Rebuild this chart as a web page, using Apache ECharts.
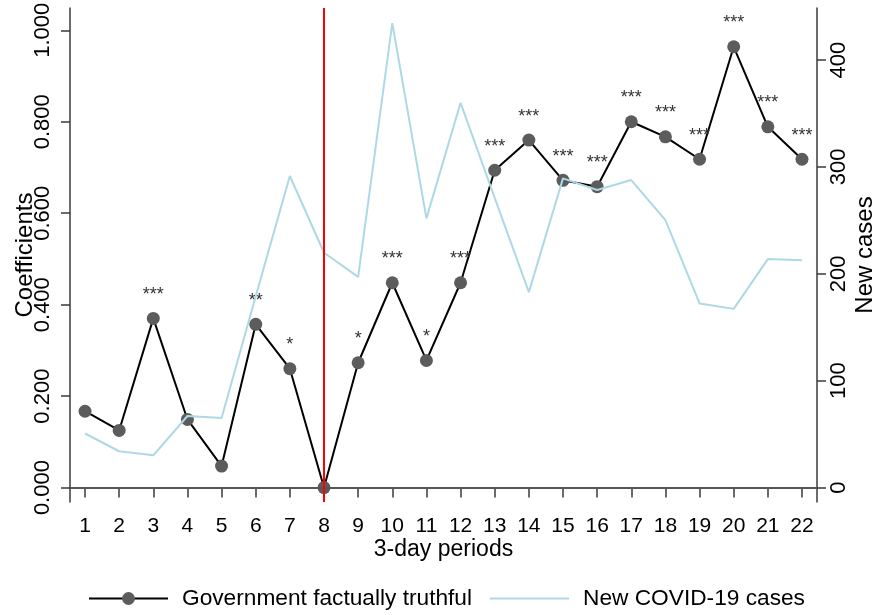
<!DOCTYPE html>
<html>
<head>
<meta charset="utf-8">
<script src="https://cdn.jsdelivr.net/npm/echarts@6/dist/echarts.min.js"></script>
<style>
html,body{margin:0;padding:0;background:#fff;}
#chart{width:876px;height:615px;}
</style>
</head>
<body>
<div id="chart"></div>
<script>
const periods = [1,2,3,4,5,6,7,8,9,10,11,12,13,14,15,16,17,18,19,20,21,22];
const coefficients = [0.167,0.125,0.370,0.149,0.047,0.357,0.260,0.000,0.273,0.448,0.278,0.448,0.694,0.760,0.672,0.658,0.800,0.767,0.718,0.964,0.789,0.718];
const significance = ['','','***','','','**','*','','*','***','*','***','***','***','***','***','***','***','***','***','***','***'];
const newCases = [50.6,34,30.2,67,65.2,179,291.5,219.7,197.2,434.5,251.9,360,271,182.9,289.3,278.4,287.7,250.3,172.3,167.2,213.8,212.8];
const leftTicks = [0,0.2,0.4,0.6,0.8,1.0];
const rightTicks = [0,100,200,300,400];
const breakPeriod = 8;

const FONT = 'Arial, "Liberation Sans", sans-serif';
const AXIS_COLOR = '#3a3a3a';

const chart = echarts.init(document.getElementById('chart'));
chart.setOption({
  animation: false,
  backgroundColor: '#fff',
  textStyle: {fontFamily: FONT},
  grid: {left: 70, right: 59, top: 8, bottom: 113, containLabel: false, outerBoundsMode: 'none'},
  legend: {
    left: 83, top: 582,
    itemWidth: 79, itemHeight: 16, itemGap: 17,
    textStyle: {fontSize: 22.7, color: '#000', fontFamily: FONT, padding: [0,0,0,9]},
    data: [
      {name: 'Government factually truthful'},
      {name: 'New COVID-19 cases', itemStyle: {opacity: 0}}
    ]
  },
  xAxis: {
    type: 'value', min: 0.56, max: 22.44,
    name: '3-day periods', nameLocation: 'middle', nameGap: 36, nameMoveOverlap: false,
    nameTextStyle: {fontSize: 23, color: '#000', fontFamily: FONT},
    axisLine: {show: true, lineStyle: {color: AXIS_COLOR, width: 1.5}},
    axisTick: {show: true, length: 10, customValues: periods, lineStyle: {color: AXIS_COLOR, width: 1.5}},
    axisLabel: {customValues: periods, fontSize: 21, color: '#000', margin: 14, fontFamily: FONT},
    splitLine: {show: false}
  },
  yAxis: [{
    type: 'value', position: 'left', min: -0.0315, max: 1.0488,
    name: 'Coefficients', nameLocation: 'middle', nameGap: 33, nameMoveOverlap: false,
    nameTextStyle: {fontSize: 24, color: '#000', fontFamily: FONT},
    axisLine: {show: true, lineStyle: {color: AXIS_COLOR, width: 1.5}},
    axisTick: {show: true, length: 9, customValues: leftTicks, lineStyle: {color: AXIS_COLOR, width: 1.5}},
    axisLabel: {customValues: leftTicks, rotate: 90, fontSize: 22, color: '#000', margin: 16, fontFamily: FONT,
      formatter: v => v.toFixed(3)},
    splitLine: {show: false}
  }, {
    type: 'value', position: 'right', min: -13.48, max: 448.7,
    name: 'New cases', nameLocation: 'middle', nameGap: 36, nameMoveOverlap: false,
    nameTextStyle: {fontSize: 24, color: '#000', fontFamily: FONT},
    axisLine: {show: true, lineStyle: {color: AXIS_COLOR, width: 1.5}},
    axisTick: {show: true, length: 9, customValues: rightTicks, lineStyle: {color: AXIS_COLOR, width: 1.5}},
    axisLabel: {customValues: rightTicks, rotate: 90, fontSize: 22, color: '#000', margin: 11, fontFamily: FONT,
      formatter: v => String(Math.round(v))},
    splitLine: {show: false}
  }],
  series: [{
    name: 'Government factually truthful',
    type: 'line', yAxisIndex: 0, z: 3,
    data: periods.map((p, i) => [p, coefficients[i]]),
    symbol: 'circle', symbolSize: 13,
    itemStyle: {color: '#5c5c5c'},
    lineStyle: {color: '#000', width: 2},
    label: {
      show: true, position: 'top', distance: 8,
      fontSize: 18, color: '#333', fontFamily: FONT,
      formatter: p => significance[p.dataIndex]
    },
    markLine: {
      silent: true, symbol: 'none', z: 10,
      label: {show: false},
      data: [
        {yAxis: 0, lineStyle: {color: '#555', width: 2, type: 'solid'}},
        {xAxis: breakPeriod, lineStyle: {color: '#ff0000', width: 2, type: 'solid'}}
      ]
    }
  }, {
    name: 'New COVID-19 cases',
    type: 'line', yAxisIndex: 1, z: 4,
    data: periods.map((p, i) => [p, newCases[i]]),
    symbol: 'none',
    itemStyle: {color: '#add8e6'},
    lineStyle: {color: '#add8e6', width: 2}
  }]
});
</script>
</body>
</html>
